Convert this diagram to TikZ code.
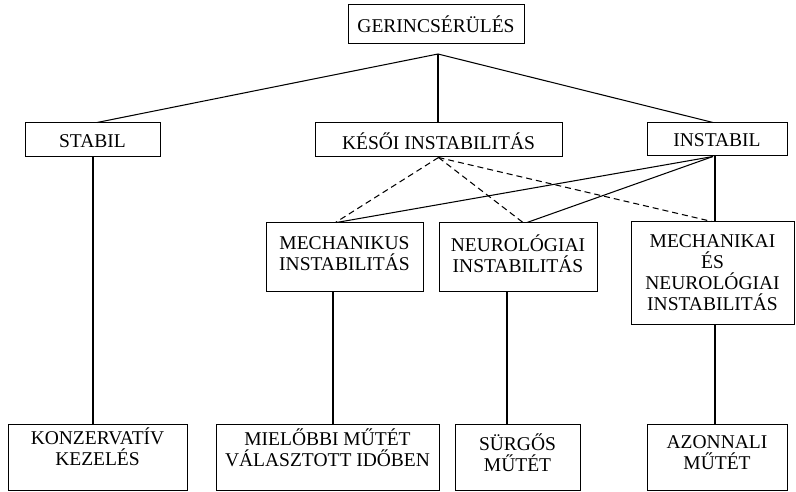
\documentclass[tikz,border=0pt]{standalone}
\usepackage{fontspec}
\setmainfont{Liberation Serif}
\begin{document}
\begin{tikzpicture}[x=1pt,y=-1pt,
  box/.style={draw,line width=1pt,rectangle,inner sep=0pt},
  txt/.style={inner sep=0pt,align=center,font=\fontsize{19.5}{21}\selectfont},
  link/.style={line width=1.05pt},
  late/.style={line width=1.05pt,dash pattern=on 6pt off 4pt}]
\useasboundingbox (0,0) rectangle (796,492);

% frames of the decision tree
\node[box,minimum width=176pt,minimum height=39pt] (root) at (436,24.5) {};
\node[box,minimum width=135pt,minimum height=34pt] (stabil) at (92.5,140) {};
\node[box,minimum width=247pt,minimum height=34pt] (kesoi) at (438.5,140) {};
\node[box,minimum width=140pt,minimum height=33pt] (instabil) at (717,139.5) {};
\node[box,minimum width=157pt,minimum height=68pt] (mech) at (344.5,257) {};
\node[box,minimum width=158pt,minimum height=68pt] (neuro) at (518,257) {};
\node[box,minimum width=163pt,minimum height=102pt] (mixed) at (712.5,273) {};
\node[box,minimum width=179pt,minimum height=66pt] (konz) at (97.5,457) {};
\node[box,minimum width=223pt,minimum height=66pt] (elobbi) at (327.5,457) {};
\node[box,minimum width=125pt,minimum height=66pt] (surgos) at (517.5,457) {};
\node[box,minimum width=140pt,minimum height=66pt] (azonnali) at (717,457) {};

% labels inside the frames
\node[txt] (root-t) at (root.center) {GERINCSÉRÜLÉS};
\node[txt] (stabil-t) at ([yshift=-1pt]stabil.center) {STABIL};
\node[txt] (kesoi-t) at ([yshift=-1pt]kesoi.center) {KÉSŐI INSTABILITÁS};
\node[txt] (instabil-t) at ([yshift=-1pt]instabil.center) {INSTABIL};
\node[txt] (mech-t) at ([yshift=3pt]mech.center) {MECHANIKUS\\INSTABILITÁS};
\node[txt] (neuro-t) at ([yshift=3pt]neuro.center) {NEUROLÓGIAI\\INSTABILITÁS};
\node[txt] (mixed-t) at (mixed.center) {MECHANIKAI\\ÉS\\NEUROLÓGIAI\\INSTABILITÁS};
\node[txt] (konz-t) at ([yshift=10pt]konz.center) {KONZERVATÍV\\KEZELÉS};
\node[txt] (elobbi-t) at ([yshift=9.5pt]elobbi.center) {MIELŐBBI MŰTÉT\\VÁLASZTOTT IDŐBEN};
\node[txt] (surgos-t) at ([yshift=4pt]surgos.center) {SÜRGŐS\\MŰTÉT};
\node[txt] (azonnali-t) at ([yshift=4pt]azonnali.center) {AZONNALI\\MŰTÉT};

% branching point below the root
\coordinate (fork) at (438,54);
\draw[link] (fork) -- ([xshift=4.5pt]stabil.north);
\draw[link] (fork) -- (fork |- kesoi.north);
\draw[link] (fork) -- ([xshift=-4pt]instabil.north);

% unstable injuries
\coordinate (inst) at ([xshift=-4pt]instabil.south);
\draw[link] (inst) -- ([xshift=-8pt]mech.north);
\draw[link] (inst) -- ([xshift=9pt]neuro.north);
\draw[link] ([xshift=-2pt]instabil.south) -- ([xshift=2.5pt]mixed.north);

% late instability (dashed)
\coordinate (late) at (kesoi.south);
\draw[late] (late) -- ([xshift=-9pt]mech.north);
\draw[late] (late) -- ([xshift=5pt]neuro.north);
\draw[late] (late) -- ([xshift=-0.5pt]mixed.north);

% treatments
\draw[link] ([xshift=0.5pt]stabil.south) -- ([xshift=0.5pt]stabil.south |- konz.north);
\draw[link] ([xshift=-11.5pt]mech.south) -- ([xshift=-11.5pt]mech.south |- elobbi.north);
\draw[link] ([xshift=-11pt]neuro.south) -- ([xshift=-11pt]neuro.south |- surgos.north);
\draw[link] ([xshift=2.5pt]mixed.south) -- ([xshift=2.5pt]mixed.south |- azonnali.north);
\end{tikzpicture}
\end{document}
